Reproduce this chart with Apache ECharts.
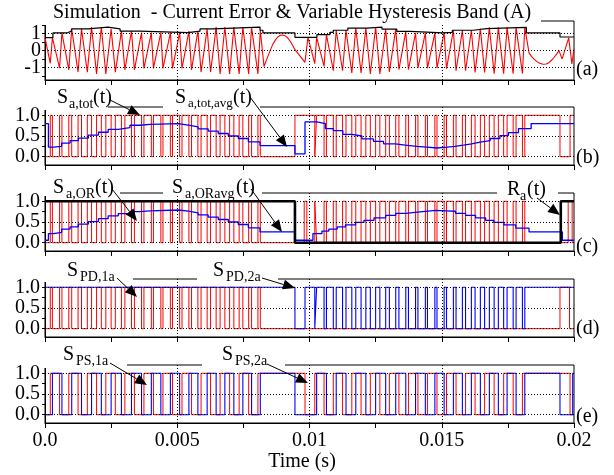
<!DOCTYPE html>
<html><head><meta charset="utf-8">
<script src="https://cdn.jsdelivr.net/npm/echarts@6/dist/echarts.min.js"></script>
<style>html,body{margin:0;padding:0;background:#fff}#c{width:614px;height:475px}</style>
</head><body><div id="c"></div>
<script>
// ---- data (time in ms; axis labels shown in seconds) ----
const xTickLabels = {0:'0.0',5:'0.005',10:'0.01',15:'0.015',20:'0.02'};
const panelTags = ['(a)','(b)','(c)','(d)','(e)'];
const yLabelsA = [-1,0,1];
const yTicksA = [-1.5,-1,-0.5,0,0.5,1,1.5];
const yLabelsS = [0,0.5,1];
const yTicksS = [0,0.25,0.5,0.75,1];
const xDots = [5,10,15];

// S_a,OR high pulses [rise, fall], first and second half cycle
const pulses1 = [[0.20,0.28],[0.55,0.64],[0.90,1.01],[1.25,1.38],[1.60,1.76],[1.95,2.13],[2.30,2.50],[2.66,2.89],[3.02,3.27],[3.38,3.65],[3.74,4.02],[4.10,4.38],[4.46,4.74],[4.82,5.09],[5.18,5.44],[5.54,5.78],[5.90,6.13],[6.26,6.47],[6.62,6.80],[6.98,7.14],[7.34,7.48],[7.70,7.81],[8.05,8.14]];
const pulses2 = [[10.20,10.27],[10.55,10.64],[10.90,11.01],[11.25,11.38],[11.60,11.75],[11.95,12.13],[12.30,12.50],[12.66,12.88],[13.02,13.26],[13.38,13.64],[13.74,14.01],[14.10,14.38],[14.46,14.74],[14.82,15.09],[15.18,15.44],[15.54,15.78],[15.90,16.12],[16.26,16.46],[16.62,16.80],[16.98,17.14],[17.34,17.47],[17.70,17.81],[18.05,18.14]];

// hysteresis band (value holds from t)
const band = [[0,0.76],[0.30,1.04],[0.83,1.15],[1.00,1.28],[1.63,1.39],[2.38,1.28],[2.84,1.15],[3.59,1.06],[5.41,1.15],[5.86,1.28],[6.35,1.39],[8.13,1.2],[8.24,1.04],[9.45,0.78],[10.28,0.94],[10.77,1.08],[10.9,1.2],[11.45,1.33],[12.17,1.39],[12.74,1.27],[13.3,1.13],[13.8,1.04],[15.05,1.08],[15.4,1.2],[16.2,1.3],[16.7,1.37],[18.2,1.04],[19.47,0.8]];
const errStart = [[0,0.76]];
const errArc1 = [[8.28,-0.95],[8.4,-0.45],[8.5,-0.05],[8.6,0.32],[8.7,0.6],[8.8,0.8],[8.9,0.9],[8.98,0.92],[9.08,0.87],[9.18,0.74],[9.28,0.53],[9.38,0.25],[9.45,0.05],[9.83,-0.7],[9.94,0.78]];
const errArc2 = [[18.3,-0.14],[18.4,-0.36],[18.5,-0.53],[18.6,-0.66],[18.7,-0.76],[18.83,-0.82],[18.95,-0.8],[19.05,-0.72],[19.15,-0.58],[19.25,-0.4],[19.35,-0.2],[19.43,0.0],[19.55,-0.5],[19.8,0.75],[19.92,-0.8],[20,0.1]];

// averages (value holds from t)
const avgTot = [[0,0.80],[0.13,0.23],[0.32,0.25],[0.63,0.33],[0.95,0.39],[1.26,0.45],[1.64,0.52],[2.02,0.59],[2.39,0.66],[2.77,0.70],[3.21,0.76],[3.59,0.78],[3.97,0.80],[5.04,0.76],[5.42,0.72],[5.79,0.67],[6.17,0.62],[6.55,0.56],[6.93,0.50],[7.31,0.44],[7.69,0.36],[8.13,0.27],[9.45,0.07],[9.83,0.84],[10.28,0.80],[10.6,0.68],[10.9,0.63],[11.26,0.54],[11.6,0.50],[11.98,0.43],[12.42,0.37],[12.8,0.31],[13.24,0.28],[13.62,0.25],[14.06,0.23],[14.44,0.21],[14.82,0.23],[15.2,0.25],[15.5,0.28],[15.82,0.31],[16.13,0.35],[16.45,0.39],[16.83,0.44],[17.2,0.51],[17.52,0.58],[17.9,0.68],[18.38,0.80]];
const avgOR = [[0,0.06],[0.13,0.22],[0.32,0.25],[0.63,0.33],[0.95,0.38],[1.26,0.45],[1.64,0.51],[2.02,0.58],[2.39,0.65],[2.77,0.70],[3.21,0.75],[3.59,0.77],[3.97,0.79],[5.04,0.76],[5.42,0.72],[5.79,0.67],[6.17,0.62],[6.55,0.56],[6.93,0.50],[7.31,0.44],[7.69,0.36],[8.13,0.26],[9.45,0.06],[10.13,0.22],[10.47,0.28],[10.73,0.33],[11.05,0.38],[11.36,0.43],[11.74,0.49],[12.06,0.54],[12.44,0.60],[12.88,0.66],[13.26,0.71],[13.64,0.74],[14.08,0.78],[14.77,0.77],[15.15,0.76],[15.52,0.71],[15.9,0.66],[16.28,0.60],[16.66,0.54],[16.97,0.49],[17.35,0.43],[17.8,0.35],[18.3,0.26],[19.56,0.06]];

// extra switching instants outside the pulse trains
const totExtra = [9.45,19.47,19.85];
const orExtra = [9.80,9.90,19.78,19.93];
const raToggles = [9.45,19.5];
const pd1Extra = [19.47,19.83];
const pd2Extra = [9.45,9.83];
const ps1Extra = [9.83,19.85];
const ps2Extra = [9.45,19.47,19.95];

// ---- helpers ----
const T_END = 20;
function toggles(start, times){
  const ts = times.slice().sort((a,b)=>a-b);
  const pts = [[0,start]]; let l = start;
  ts.forEach(t=>{ pts.push([t,l]); l = 1-l; pts.push([t,l]); });
  pts.push([T_END,l]); return pts;
}
function holdEnd(arr){ return arr.concat([[T_END, arr[arr.length-1][1]]]); }
function bandAt(t){ let v = band[0][1]; band.forEach(p=>{ if(p[0]<=t) v=p[1]; }); return v; }
const peaks = ps => ps.flatMap(([a,b])=>[[a,-bandAt(a)],[b,bandAt(b)]]);
const errPts = errStart.concat(peaks(pulses1), errArc1, peaks(pulses2), errArc2);
const flat1 = pulses1.flat(), flat2 = pulses2.flat();
const sTot = toggles(0, flat1.concat(totExtra, flat2));
const sOR = toggles(0, flat1.concat(orExtra, flat2));
const rA = toggles(1, raToggles);
const sPD1 = toggles(0, flat1.concat(pd1Extra));
const sPD2 = toggles(1, pd2Extra.concat(flat2));
const sPS1 = toggles(0, pulses1.map(p=>p[0]).concat(ps1Extra, pulses2.map(p=>p[0])));
const sPS2 = toggles(0, pulses1.map(p=>p[1]).concat(ps2Extra, pulses2.map(p=>p[1])));

const FONT = 'Liberation Serif';
const RED = '#ff0000', BLUE = '#0000ff';
const tops = [21,107,193,279,365];
const heights = [59,58,58,58,58];

const grids = tops.map((t,i)=>({left:45, width:529, top:t, height:heights[i], show:true, borderColor:'#000', borderWidth:1, backgroundColor:'transparent'}));
const xAxes = tops.map((t,i)=>({gridIndex:i, type:'value', min:0, max:20, interval:5,
  axisLine:{show:true, onZero:false, lineStyle:{color:'#000', width:1}},
  axisTick:{show:true, inside:false, length:5, lineStyle:{color:'#000'}},
  minorTick:{show:true, splitNumber:2, length:5, lineStyle:{color:'#000'}},
  splitLine:{show:false},
  axisLabel:{show:i===4, hideOverlap:false, margin:8, fontFamily:FONT, fontSize:20, color:'#000', formatter:v=>xTickLabels[v]!==undefined?xTickLabels[v]:''}}));
const yAxes = tops.map((t,i)=>({gridIndex:i, type:'value', min:i===0?-1.75:-0.2, max:i===0?1.75:1.2,
  axisLine:{show:true, onZero:false, lineStyle:{color:'#000', width:1}},
  axisTick:{show:true, inside:false, length:3, lineStyle:{color:'#000'}, customValues: i===0?yTicksA:yTicksS},
  splitLine:{show:false},
  axisLabel:{show:i!==0, margin:5, hideOverlap:false, fontFamily:FONT, fontSize:20, color:'#000', customValues: yLabelsS,
    formatter: v=> Number(v).toFixed(1)}}));

function line(i, data, color, width, z, step){
  return {type:'line', xAxisIndex:i, yAxisIndex:i, data, symbol:'none', showSymbol:false, step: step||false,
    lineStyle:{color, width}, itemStyle:{color}, z:z||3, animation:false, silent:true};
}
function dots(i){
  const ys = i===0?yLabelsA:yLabelsS;
  return {type:'line', xAxisIndex:i, yAxisIndex:i, data:[], z:1, silent:true, animation:false,
    markLine:{silent:true, symbol:['none','none'], label:{show:false}, animation:false,
      lineStyle:{color:'#000', type:[1,2], width:1},
      data: ys.map(v=>({yAxis:v})).concat(xDots.map(v=>({xAxis:v})))}};
}
const series = [0,1,2,3,4].map(dots).concat([
  line(0, errPts, RED, 1.1, 3),
  line(0, holdEnd(band), '#000', 1.2, 4, 'end'),
  line(1, sTot, RED, 1, 3),
  line(1, holdEnd(avgTot), BLUE, 1.3, 4, 'end'),
  line(2, sOR, RED, 1, 3),
  line(2, holdEnd(avgOR), BLUE, 1.3, 4, 'end'),
  line(2, rA, '#000', 2.6, 5),
  line(3, sPD1, RED, 1, 3),
  line(3, sPD2, BLUE, 1.1, 4),
  line(4, sPS1, RED, 1, 3),
  line(4, sPS2, BLUE, 1.1, 4)
]);

// ---- annotations ----
function txt(x,y,text,size,align){ return {type:'text', z:101, x, y, style:{text, fontFamily:FONT, fontSize:size, fill:'#000', align:align||'left', verticalAlign:'middle', textAlign:align||'left', textVerticalAlign:'middle'}}; }
function box(x,y,w,h){ return {type:'rect', z:100, shape:{x,y,width:w,height:h}, style:{fill:'#fff'}}; }
function arrow(x1,y1,x2,y2){
  const L=12, W=5, dx=x2-x1, dy=y2-y1, len=Math.hypot(dx,dy), ux=dx/len, uy=dy/len;
  const bx=x2-ux*L, by=y2-uy*L;
  return [{type:'line', z:101, shape:{x1,y1,x2:bx,y2:by}, style:{stroke:'#000', lineWidth:1}},
    {type:'polygon', z:101, shape:{points:[[x2,y2],[bx-uy*W,by+ux*W],[bx+uy*W,by-ux*W]]}, style:{fill:'#000'}}];
}
const graphic = [
  box(38,0,503,25),
  txt(53,13,'Simulation  - Current Error & Variable Hysteresis Band (A)',20),
  // (b)
  box(44,85,64,25), box(163,85,97,25),
  txt(57,98,'S',20), txt(69,104,'a,tot',14), txt(93,98,'(t)',20),
  txt(175,98,'S',20), txt(188,104,'a,tot,avg',13), txt(233,98,'(t)',20),
  ...arrow(110,100,140,115), ...arrow(250,97,287,147),
  // (c)
  box(44,172,76,24), box(163,172,99,24), box(497,172,61,24),
  txt(53,188,'S',20), txt(66,194,'a,OR',14), txt(95,188,'(t)',20),
  txt(172,188,'S',20), txt(185,194,'a,ORavg',14), txt(236,188,'(t)',20),
  txt(507,190,'R',20), txt(520,196,'a',14), txt(527,190,'(t)',20),
  ...arrow(112,189,137,221), ...arrow(251,189,282,232), ...arrow(537,198,560,215),
  // (d)
  box(44,258,89,24), box(197,258,81,24),
  txt(67,271,'S',20), txt(80,277,'PD,1a',14),
  txt(213,271,'S',20), txt(226,277,'PD,2a',14),
  ...arrow(117,278,137,297), ...arrow(262,278,295,288),
  // (e)
  box(44,343,83,25), box(202,343,83,25),
  txt(63,355,'S',20), txt(76,361,'PS,1a',14),
  txt(222,355,'S',20), txt(235,361,'PS,2a',14),
  ...arrow(110,363,147,385), ...arrow(267,364,308,383),
  // tags & axis name
  txt(576,70,panelTags[0],20), txt(576,158,panelTags[1],20), txt(576,247,panelTags[2],20),
  txt(576,329,panelTags[3],20), txt(576,417,panelTags[4],20),
  txt(302,462,'Time (s)',20,'center')
];

const chart = echarts.init(document.getElementById('c'), null, {renderer:'canvas'});
chart.setOption({animation:false, backgroundColor:'#fff', grid:grids, xAxis:xAxes, yAxis:yAxes, series, graphic});
// y tick labels of panel (a), placed through the panel's own y scale
const aLabels = yLabelsA.map(v=>{
  const py = chart.convertToPixel({yAxisIndex:0}, v);
  return txt(41, py, String(v), 20, 'right');
});
chart.setOption({graphic: graphic.concat(aLabels)});
</script></body></html>
